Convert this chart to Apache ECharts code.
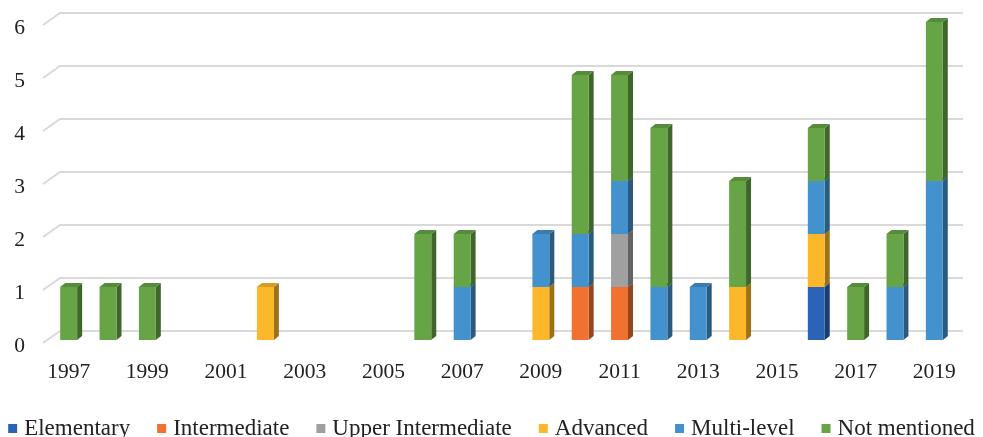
<!DOCTYPE html>
<html>
<head>
<meta charset="utf-8">
<script src="https://cdn.jsdelivr.net/npm/echarts@6/dist/echarts.min.js"></script>
<style>
    html, body { margin: 0; padding: 0; background: #fff; }
    #chart { width: 983px; height: 437px; }
</style>
</head>
<body>
<div id="chart"></div>
<script>
    // years on the x axis
    var years = ['1997','1998','1999','2000','2001','2002','2003','2004','2005','2006','2007','2008',
                 '2009','2010','2011','2012','2013','2014','2015','2016','2017','2018','2019'];
    var yTicks = [0, 1, 2, 3, 4, 5, 6];

    // counts per level, stacked bottom -> top
    var elementary   = [0,0,0,0,0,0,0,0,0,0,0,0,0,0,0,0,0,0,0,1,0,0,0];
    var intermediate = [0,0,0,0,0,0,0,0,0,0,0,0,0,1,1,0,0,0,0,0,0,0,0];
    var upperInter   = [0,0,0,0,0,0,0,0,0,0,0,0,0,0,1,0,0,0,0,0,0,0,0];
    var advanced     = [0,0,0,0,0,1,0,0,0,0,0,0,1,0,0,0,0,1,0,1,0,0,0];
    var multiLevel   = [0,0,0,0,0,0,0,0,0,0,1,0,1,1,1,1,1,0,0,1,0,1,3];
    var notMentioned = [1,1,1,0,0,0,0,0,0,2,1,0,0,3,2,3,0,2,0,1,1,1,3];

    var levels = [
        {name: 'Elementary', color: '#2b63b6', data: elementary},
        {name: 'Intermediate', color: '#f17131', data: intermediate},
        {name: 'Upper Intermediate', color: '#a0a0a0', data: upperInter},
        {name: 'Advanced', color: '#fdb72a', data: advanced},
        {name: 'Multi-level', color: '#4392cd', data: multiLevel},
        {name: 'Not mentioned', color: '#66a446', data: notMentioned}
    ];

    var FONT = '"Liberation Serif", "Times New Roman", serif';
    var chart = echarts.init(document.getElementById('chart'));

    function shade(hex, f) {
        var n = parseInt(hex.slice(1), 16);
        var r = Math.round(((n >> 16) & 255) * f), g = Math.round(((n >> 8) & 255) * f), b = Math.round((n & 255) * f);
        return 'rgb(' + r + ',' + g + ',' + b + ')';
    }

    // 3d-ish bar: front face + darker side + top
    function barRenderer(color) {
        var side = shade(color, 0.62);
        var topc = shade(color, 0.85);
        return function (params, api) {
            var base = api.value(1), top = api.value(2);
            if (top <= base) return null;
            var p0 = api.coord([api.value(0), base]);
            var p1 = api.coord([api.value(0), top]);
            var w = api.size([1, 0])[0] * 0.43;
            var x = p0[0] - w / 2, dx = 5, dy = 4;
            return {
                type: 'group',
                children: [
                    {type: 'polygon', shape: {points: [[x + w, p1[1]], [x + w + dx, p1[1] - dy], [x + w + dx, p0[1] - dy], [x + w, p0[1]]]},
                        style: {fill: side}},
                    {type: 'polygon', shape: {points: [[x, p1[1]], [x + dx, p1[1] - dy], [x + w + dx, p1[1] - dy], [x + w, p1[1]]]},
                        style: {fill: topc}},
                    {type: 'rect', shape: {x: x, y: p1[1], width: w, height: p0[1] - p1[1]},
                        style: {fill: color}}
                ]
            };
        };
    }

    var series = [];
    // gridlines drawn on the back wall
    series.push({
        type: 'custom',
        silent: true,
        z: 1,
        data: yTicks.map(function (v) { return [0, v]; }),
        renderItem: function (params, api) {
            var cs = params.coordSys;
            var y = api.coord([0, api.value(1)])[1];
            return {
                type: 'polyline',
                shape: {points: [[cs.x - 6, y + 3], [cs.x + 11, y - 9], [cs.x + cs.width + 9, y - 9]]},
                style: {stroke: '#d9d9d9', lineWidth: 2, fill: null}
            };
        }
    });

    var stackBase = years.map(function () { return 0; });
    levels.forEach(function (lv, k) {
        var rows = lv.data.map(function (v, i) {
            var b = stackBase[i];
            stackBase[i] = b + v;
            return [i, b, b + v];
        });
        series.push({
            name: lv.name,
            type: 'custom',
            z: 2 + k,
            itemStyle: {color: lv.color},
            encode: {x: 0, y: [1, 2]},
            data: rows,
            renderItem: barRenderer(lv.color)
        });
    });

    var option = {
        animation: false,
        // second grid only carries the y labels, shifted down a little like the front edge of the floor
        grid: [
            {left: 49, right: 29, top: 22, bottom: 97},
            {left: 49, right: 29, top: 28, bottom: 91}
        ],
        legend: {
            bottom: -3,
            left: 'center',
            width: 983,
            padding: 0,
            icon: 'rect',
            itemWidth: 9,
            itemHeight: 9,
            itemGap: 27,
            data: levels.map(function (l) { return l.name; }),
            textStyle: {fontFamily: FONT, fontSize: 23, color: '#222', padding: [0, 0, 0, 2]}
        },
        xAxis: [{
            type: 'category',
            data: years,
            axisLine: {show: false},
            axisTick: {show: false},
            axisLabel: {interval: 1, margin: 21, fontFamily: FONT, fontSize: 21.5, color: '#222'}
        }, {
            type: 'category',
            gridIndex: 1,
            data: years,
            show: false
        }],
        yAxis: [{
            type: 'value',
            min: 0,
            max: 6,
            interval: 1,
            splitLine: {show: false},
            axisLine: {show: false},
            axisLabel: {show: false}
        }, {
            type: 'value',
            gridIndex: 1,
            min: 0,
            max: 6,
            interval: 1,
            splitLine: {show: false},
            axisLine: {show: false},
            axisLabel: {margin: 24, fontFamily: FONT, fontSize: 21.5, color: '#222'}
        }],
        series: series
    };
    chart.setOption(option);
</script>
</body>
</html>
